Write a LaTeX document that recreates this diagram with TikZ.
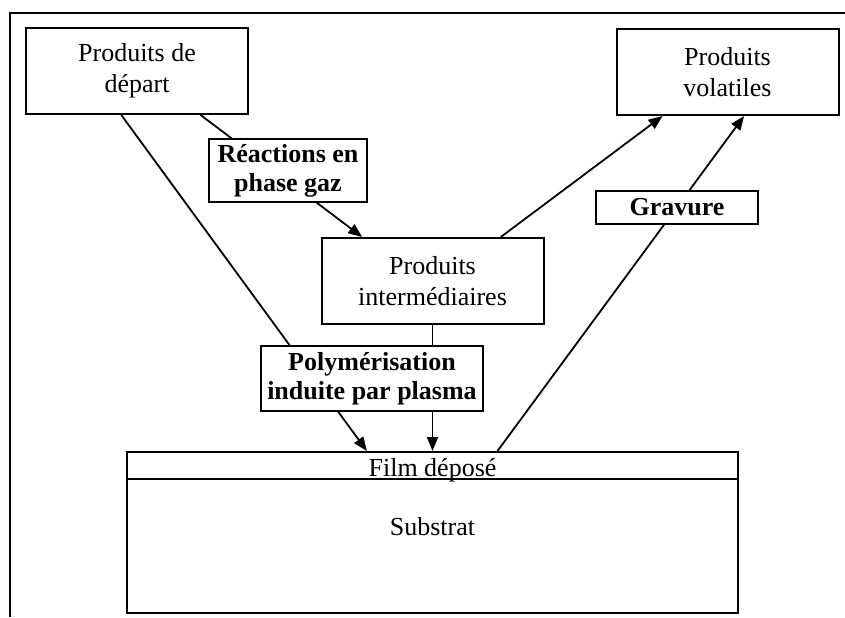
\documentclass[tikz,border=0pt]{standalone}
\usepackage{fontspec}
\setmainfont{Liberation Serif}
\usepackage{tikz}
\usetikzlibrary{arrows.meta, positioning, calc}

\begin{document}
\begin{tikzpicture}[x=0.5pt, y=-0.5pt, line width=1pt,
    font=\fontsize{13}{15.5}\selectfont,
    produit/.style={shape=rectangle, draw=black, align=center, minimum width=111pt, minimum height=43pt, inner sep=0pt},
    procede/.style={shape=rectangle, draw=black, fill=white, align=center, inner sep=0pt, font=\fontsize{13}{14.5}\selectfont\bfseries},
    fleche/.style={-{Triangle[length=7pt, width=5.5pt]}, line width=0.9pt}]
    \useasboundingbox (0,0) rectangle (845,617);
    \draw (845,13) -- (10,13) -- (10,617);

    \node[produit] (depart)    at (137,71)    {Produits de\\départ};
    \node[produit] (volatiles) at (727.5,72)  {Produits\\volatiles};
    \node[produit] (inter)     at (432.5,281) {Produits\\intermédiaires};
    \node[shape=rectangle, draw=black, minimum width=305.5pt, minimum height=13.5pt] (film) at (432.5,465.5) {};
    \node[shape=rectangle, draw=black, minimum width=305.5pt, minimum height=67pt] (substrat) at (432.5,546) {};
    \node[anchor=base] (filmtxt)     at (432.5,476) {Film déposé};
    \node[anchor=base] (substrattxt) at (432.5,535) {Substrat};

    % les fleches passent sous les cadres des procedes
    \draw[fleche] ($(depart.south west)!0.43!(depart.south east)$)  -- ($(film.north west)!0.393!(film.north east)$);
    \draw[fleche] ($(depart.south west)!0.784!(depart.south east)$) -- ($(inter.north west)!0.186!(inter.north east)$);
    \draw[fleche] (inter.south) -- (film.north);
    \draw[fleche] ($(inter.north west)!0.805!(inter.north east)$)   -- ($(volatiles.south west)!0.21!(volatiles.south east)$);
    \draw[fleche] ($(film.north west)!0.606!(film.north east)$)     -- ($(volatiles.south west)!0.574!(volatiles.south east)$);

    \node[procede, minimum width=79pt,  minimum height=31.5pt] (reactions) at (288,170.5) {Réactions en\\phase gaz};
    \node[procede, minimum width=111pt, minimum height=32.5pt] (polym)     at (372,378.5) {Polymérisation\\induite par plasma};
    \node[procede, minimum width=81pt,  minimum height=16.5pt] (gravure)   at (677,207.5) {Gravure};
\end{tikzpicture}
\end{document}
